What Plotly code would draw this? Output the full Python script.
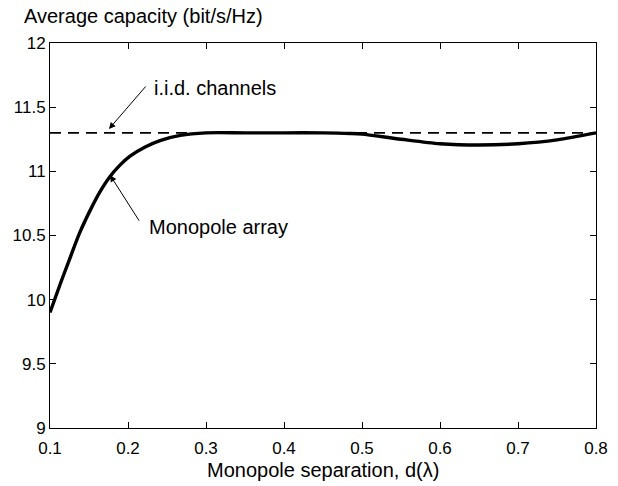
import plotly.graph_objects as go

sep = [0.1, 0.113, 0.126, 0.138, 0.151, 0.164, 0.177, 0.19, 0.203, 0.222, 0.241, 0.267,
       0.3, 0.35, 0.4, 0.45, 0.485, 0.5, 0.55, 0.6, 0.65, 0.7, 0.75, 0.8]
cap = [9.90, 10.12, 10.33, 10.52, 10.69, 10.84, 10.96, 11.05, 11.12, 11.19, 11.24, 11.28,
       11.30, 11.30, 11.30, 11.30, 11.295, 11.29, 11.25, 11.215, 11.205, 11.215, 11.245, 11.30]
iid_x = [0.1, 0.8]
iid_y = [11.3, 11.3]
xticks = [0.1, 0.2, 0.3, 0.4, 0.5, 0.6, 0.7, 0.8]
yticks = [9, 9.5, 10, 10.5, 11, 11.5, 12]

FONT = "Liberation Sans, Arial, Helvetica, sans-serif"

fig = go.Figure()
fig.add_trace(go.Scatter(x=iid_x, y=iid_y, mode="lines",
                         line=dict(color="black", width=1.6, dash="11px,7px"),
                         showlegend=False))
fig.add_trace(go.Scatter(x=sep, y=cap, mode="lines", line_shape="spline",
                         line=dict(color="black", width=3.4, smoothing=0.8),
                         showlegend=False))

axis_common = dict(showline=True, linecolor="black", linewidth=1, mirror="ticks",
                   ticks="inside", ticklen=6, tickcolor="black", showgrid=False,
                   zeroline=False, automargin=False,
                   tickfont=dict(family=FONT, size=17, color="black"))

fig.update_xaxes(range=[0.1, 0.8], tickvals=xticks,
                 ticktext=[f"{v:.1f}" for v in xticks], ticklabelstandoff=5,
                 **axis_common)
fig.update_yaxes(range=[9, 12], tickvals=yticks,
                 ticktext=[f"{v:g}" for v in yticks],
                 **axis_common)

# y-axis label placed above the axis, as in the reference
fig.add_annotation(x=(265 - 50) / 546, y=1.0, xref="paper", yref="paper", yshift=14,
                   text="Average capacity (bit/s/Hz)", showarrow=False,
                   xanchor="right", yanchor="bottom",
                   font=dict(family=FONT, size=20, color="black"))

fig.add_annotation(x=0.5, y=0, xref="paper", yref="paper", yshift=-42,
                   text="Monopole separation, d(λ)", showarrow=False,
                   xanchor="center", yanchor="middle",
                   font=dict(family=FONT, size=20, color="black"))

fig.add_annotation(x=0.1756, y=11.33, ax=38, ay=-44,
                   text="", showarrow=True, arrowhead=2, arrowsize=1.3, arrowwidth=1,
                   arrowcolor="black")
fig.add_annotation(x=0.2308, y=11.65, text="i.i.d. channels", showarrow=False,
                   xanchor="left", yanchor="middle",
                   font=dict(family=FONT, size=20, color="black"))

fig.add_annotation(x=0.177, y=10.97, ax=30, ay=47,
                   text="", showarrow=True, arrowhead=2, arrowsize=1.3, arrowwidth=1,
                   arrowcolor="black")
fig.add_annotation(x=0.2244, y=10.566, text="Monopole array", showarrow=False,
                   xanchor="left", yanchor="middle",
                   font=dict(family=FONT, size=20, color="black"))

fig.update_layout(width=618, height=486, margin=dict(l=50, r=22, t=43, b=58),
                  paper_bgcolor="white", plot_bgcolor="white",
                  font=dict(family=FONT, color="black"))

fig.write_html("out.html")
